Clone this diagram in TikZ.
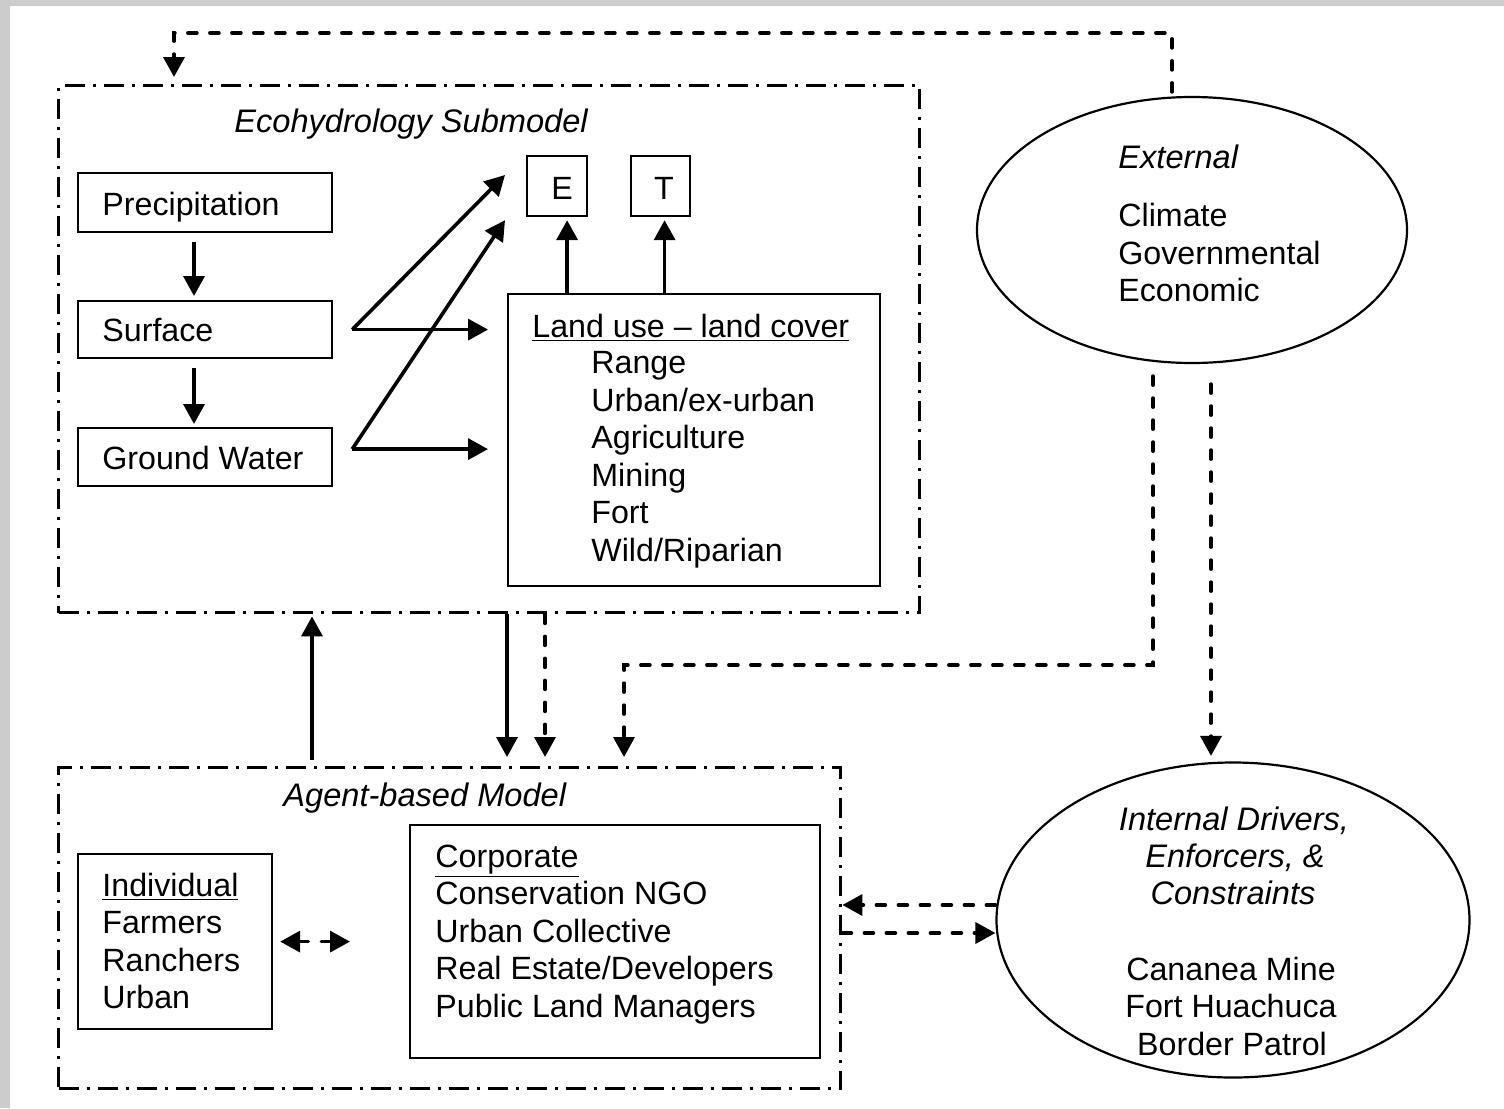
\documentclass[tikz,border=0pt]{standalone}
\usepackage{fontspec}
\setmainfont{Liberation Sans}
\usetikzlibrary{arrows.meta,shapes.geometric}
\begin{document}
\begin{tikzpicture}[x=0.5pt,y=-0.5pt,
  txt/.style={font=\fontsize{16.1}{19}\selectfont, inner sep=0pt, anchor=base west},
  itxt/.style={font=\fontsize{16.3}{19}\selectfont\itshape, inner sep=0pt, anchor=base west},
  ctxt/.style={font=\fontsize{16.1}{19}\selectfont, inner sep=0pt, anchor=base},
  ictxt/.style={font=\fontsize{16.3}{19}\selectfont\itshape, inner sep=0pt, anchor=base},
  box/.style={draw, line width=1.1pt, inner sep=0pt, anchor=north west},
  frame/.style={draw, line width=1.7pt, inner sep=0pt, anchor=north west,
    dash pattern=on 10pt off 4pt on 1.5pt off 4pt},
  arr/.style={line width=1.8pt, -{Triangle[length=10pt,width=10.5pt]}},
  darr/.style={arr, line cap=round, dash pattern=on 4.5pt off 6.5pt},
  ell/.style={draw, ellipse, line width=1.1pt, inner sep=0pt}
]
\useasboundingbox (0,0) rectangle (1504,1108);
\fill[white] (0,0) rectangle (1504,1108);
\fill[gray!40] (0,0) rectangle (1504,6);
\fill[gray!40] (0,0) rectangle (10,1108);

% frames
\node[frame, minimum width=430.5pt, minimum height=263.5pt] (eco) at (57,84) {};
\node[frame, minimum width=391pt, minimum height=160.5pt] (abm) at (57,766) {};
\node[itxt] (ecot) at (234,132) {Ecohydrology Submodel};
\node[itxt] (abmt) at (283,806) {Agent-based Model};

% ecohydrology boxes
\node[box, minimum width=127pt, minimum height=29.5pt] (prec) at (77,172) {};
\node[box, minimum width=127pt, minimum height=28.5pt] (surf) at (77,300) {};
\node[box, minimum width=127pt, minimum height=29pt] (gw) at (77,427) {};
\node[txt] (prect) at (102,215) {Precipitation};
\node[txt] (surft) at (102,341) {Surface};
\node[txt] (gwt) at (102,469) {Ground Water};

\node[box, minimum width=30pt, minimum height=30pt] (E) at (526,155) {};
\node[box, minimum width=29.5pt, minimum height=30pt] (T) at (630,155) {};
\node[ctxt] (Et) at (562,199) {E};
\node[ctxt] (Tt) at (664,199) {T};

\node[box, minimum width=186pt, minimum height=146pt] (lulc) at (507,293) {};
\node[txt] (lulct) at (532,337) {\underline{Land use -- land cover}};
\foreach \t [count=\i] in {Range, Urban/ex-urban, Agriculture, Mining, Fort, Wild/Riparian}
  \node[txt] (lu\i) at (591,336+37.5*\i) {\t};

% external ellipse
\node[ell, minimum width=215pt, minimum height=133pt] (ext) at (1192,230) {};
\node[itxt] (extt) at (1118,168) {External};
\node[txt] (ext1) at (1118,226) {Climate};
\node[txt] (ext2) at (1118,264) {Governmental};
\node[txt] (ext3) at (1118,301) {Economic};

% internal ellipse
\node[ell, minimum width=236.5pt, minimum height=157.5pt] (int) at (1233,920) {};
\node[ictxt] (int1) at (1234,830) {Internal Drivers,};
\node[ictxt] (int2) at (1235,867) {Enforcers, \&};
\node[ictxt] (int3) at (1233,904) {Constraints};
\node[ctxt] (int4) at (1231,980) {Cananea Mine};
\node[ctxt] (int5) at (1231,1017) {Fort Huachuca};
\node[ctxt] (int6) at (1232,1055) {Border Patrol};

% agent boxes
\node[box, minimum width=97pt, minimum height=87.5pt] (ind) at (77,853) {};
\node[txt] (ind0) at (102,896) {\underline{Individual}};
\node[txt] (ind1) at (102,933) {Farmers};
\node[txt] (ind2) at (102,971) {Ranchers};
\node[txt] (ind3) at (102,1008) {Urban};

\node[box, minimum width=205pt, minimum height=116.5pt] (corp) at (409,824) {};
\node[txt] (corp0) at (435,867) {\underline{Corporate}};
\node[txt] (corp1) at (435,904) {Conservation NGO};
\node[txt] (corp2) at (435,942) {Urban Collective};
\node[txt] (corp3) at (435,979) {Real Estate/Developers};
\node[txt] (corp4) at (435,1017) {Public Land Managers};

% connectors in ecohydrology
\draw[arr] ([shift={(117,9)}]prec.south west) -- ([shift={(117,-4)}]surf.north west);
\draw[arr] ([shift={(117,9)}]surf.south west) -- ([shift={(117,-3)}]gw.north west);
\coordinate (sz) at ([xshift=9.5pt]surf.east);
\coordinate (gz) at ([shift={(19,-8)}]gw.east);
\draw[arr] (sz) -- ([shift={(-21,20)}]E.north west);
\draw[arr] (sz) -- ([xshift=-9.5pt]sz -| lulc.west);
\draw[arr] (gz) -- ([shift={(-21,3)}]E.south west);
\draw[arr] (gz) -- ([xshift=-9.5pt]gz -| lulc.west);
\draw[arr] ([xshift=5pt]E.south |- lulc.north) -- ([shift={(10,3)}]E.south);
\draw[arr] ([xshift=2pt]T.south |- lulc.north) -- ([shift={(4,3)}]T.south);

% between submodels
\draw[arr] ([shift={(255,-6)}]abm.north west) -- ([shift={(255,2)}]eco.south west);
\draw[arr] ([xshift=225pt]eco.south west) -- ([shift={(450,-9)}]abm.north west);
\draw[darr] ([xshift=244pt]eco.south west) -- ([shift={(488,-9)}]abm.north west);

% external dashed connectors
\coordinate (tr) at (1172,33);
\draw[darr] ([shift={(-20,-4)}]ext.north) -- (tr) -| ([shift={(117,-7)}]eco.north west);
\coordinate (eb) at (1153,665);
\draw[darr] ([shift={(-39,12)}]ext.south) -- (eb) -| ([shift={(567,-9)}]abm.north west);
\draw[darr] ([shift={(19,20)}]ext.south) -- ([shift={(-22,-5.5)}]int.north);

% agent connectors
\draw[darr, {Triangle[length=10pt,width=10.5pt]}-{Triangle[length=10pt,width=10.5pt]}]
  ([xshift=3.5pt]ind.east) -- ([xshift=-29.5pt]corp.west);
\draw[darr] ([yshift=7.5pt]int.west) -- ([yshift=7.5pt]int.west -| abm.east);
\draw[darr] ([yshift=-6.5pt]int.west -| abm.east) -- ([yshift=-6.5pt]int.west);
\end{tikzpicture}
\end{document}
